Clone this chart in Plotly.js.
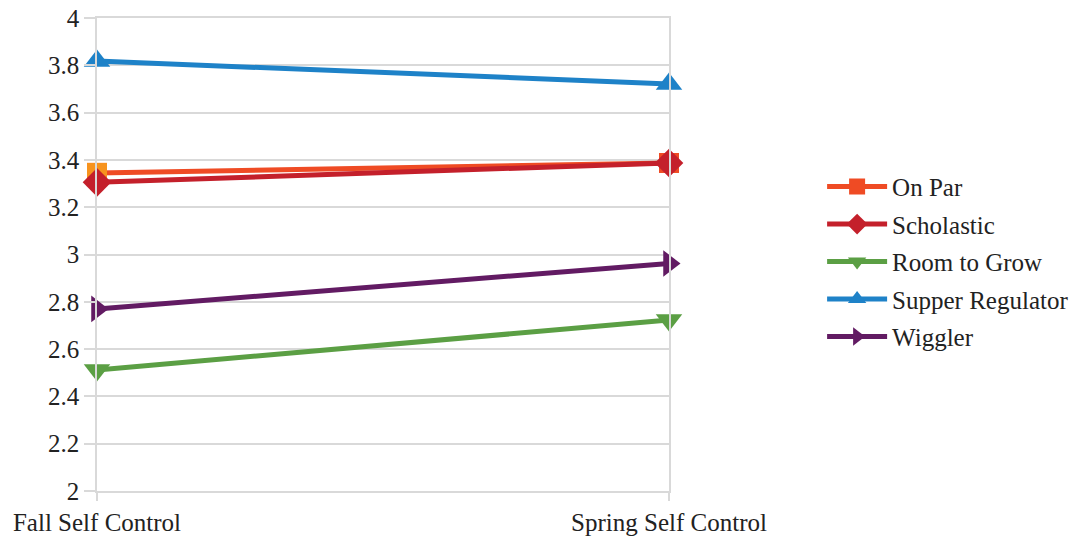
<!DOCTYPE html>
<html>
<head>
<meta charset="utf-8">
<script src="https://cdn.plot.ly/plotly-3.0.1.min.js"></script>
<style>
html,body{margin:0;padding:0;background:#fff;}
#chart{width:1086px;height:542px;}
</style>
</head>
<body>
<div id="chart"></div>
<script>
const categories = ["Fall Self Control", "Spring Self Control"];
const seriesNames = ["On Par", "Scholastic", "Room to Grow", "Supper Regulator", "Wiggler"];
const onPar = [3.345, 3.387];
const scholastic = [3.305, 3.387];
const roomToGrow = [2.512, 2.723];
const supperRegulator = [3.818, 3.721];
const wiggler = [2.770, 2.962];
const yTicks = [2, 2.2, 2.4, 2.6, 2.8, 3, 3.2, 3.4, 3.6, 3.8, 4];

const seriesValues = [onPar, scholastic, roomToGrow, supperRegulator, wiggler];
const lineColors = ["#EF4B24", "#C4202B", "#5B9F44", "#1E82C8", "#621B63"];
const symbols = ["square", "diamond", "triangle-down", "triangle-up", "triangle-right"];
const sizes = [20, 22, 23, 23, 23];

const serifFont = (size) => ({family: "Liberation Serif", size: size, color: "#222"});

const traces = seriesNames.map((name, i) => ({
  type: "scatter",
  mode: "lines+markers",
  name: name,
  x: categories,
  y: seriesValues[i],
  cliponaxis: false,
  legendgroup: "g" + i,
  line: {color: lineColors[i], width: 5},
  marker: {symbol: symbols[i], size: sizes[i], color: lineColors[i], line: {width: 0}}
}));

// Fall "On Par" marker is drawn in orange in the original
traces.splice(1, 0, {
  type: "scatter",
  mode: "markers",
  name: seriesNames[0],
  x: [categories[0]],
  y: [onPar[0]],
  cliponaxis: false,
  showlegend: false,
  legendgroup: "g0",
  marker: {symbol: symbols[0], size: sizes[0], color: "#F7931E", line: {width: 0}}
});

const layout = {
  width: 1086,
  height: 542,
  margin: {l: 97, r: 417, t: 18, b: 51},
  paper_bgcolor: "#fff",
  plot_bgcolor: "#fff",
  showlegend: true,
  legend: {
    xref: "container", yref: "container",
    x: 0.757, xanchor: "left",
    y: 0.517, yanchor: "middle",
    itemwidth: 60,
    tracegroupgap: 2,
    font: serifFont(25),
    bgcolor: "rgba(0,0,0,0)"
  },
  xaxis: {
    type: "category",
    range: [0, 1],
    showgrid: true,
    gridcolor: "#D9D9D9",
    gridwidth: 1.5,
    showline: true,
    linecolor: "#D9D9D9",
    linewidth: 1.5,
    mirror: true,
    ticks: "outside",
    ticklen: 8,
    tickcolor: "#D9D9D9",
    tickwidth: 1.5,
    tickfont: serifFont(25)
  },
  yaxis: {
    range: [2, 4],
    tickvals: yTicks,
    ticktext: yTicks.map(String),
    showgrid: true,
    gridcolor: "#D9D9D9",
    gridwidth: 1.5,
    zeroline: false,
    showline: true,
    linecolor: "#D9D9D9",
    linewidth: 1.5,
    mirror: true,
    ticks: "outside",
    ticklen: 11,
    tickcolor: "#D9D9D9",
    tickwidth: 1.5,
    tickfont: serifFont(25)
  }
};

Plotly.newPlot("chart", traces, layout, {displayModeBar: false});
</script>
</body>
</html>
